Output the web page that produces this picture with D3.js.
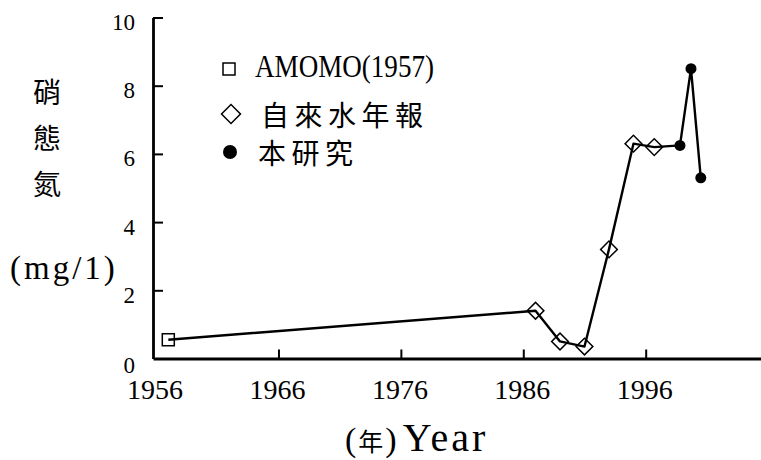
<!DOCTYPE html>
<html>
<head>
<meta charset="utf-8">
<script src="https://cdn.jsdelivr.net/npm/d3@7"></script>
<style>
  html, body { margin: 0; padding: 0; background: #fff; }
  svg { display: block; }
  .latin { font-family: "Liberation Serif", "Times New Roman", serif; fill: #000; }
  .cjk { font-family: "Noto Sans CJK TC", "Noto Sans CJK SC", sans-serif; fill: #000; }
</style>
</head>
<body>
<svg id="chart" width="761" height="460"></svg>
<script>
// Nitrate nitrogen (mg/l) by year, three sources
const amomoYears = [1957];
const amomoValues = [0.55];
const annualYears = [1987, 1989, 1991, 1993, 1995, 1996.7];
const annualValues = [1.4, 0.5, 0.35, 3.2, 6.3, 6.2];
const studyYears = [1998.8, 1999.7, 2000.5];
const studyValues = [6.25, 8.5, 5.3];

const xTicks = [1956, 1966, 1976, 1986, 1996];
const yTicks = [0, 2, 4, 6, 8, 10];

const legendLabels = ["AMOMO(1957)", "自來水年報", "本研究"];
const yTitleChars = ["硝", "態", "氮"];
const yUnit = "(mg/1)";
const xTitleCjk = "年";
const xTitleLatin = "Year";

const svg = d3.select("#chart");

const x = d3.scaleLinear().domain([1955.75, 2006]).range([153, 768.1]);
const y = d3.scaleLinear().domain([0, 10]).range([358.5, 17.5]);

// all points joined chronologically
const series = [
  ...amomoYears.map((d, i) => ({ year: d, value: amomoValues[i] })),
  ...annualYears.map((d, i) => ({ year: d, value: annualValues[i] })),
  ...studyYears.map((d, i) => ({ year: d, value: studyValues[i] }))
];

// y axis, ticks pointing inward
const yAxis = svg.append("g")
  .attr("transform", `translate(${x(1955.75)},0)`)
  .call(d3.axisLeft(y).tickValues(yTicks).tickSize(-10).tickSizeOuter(0).tickPadding(18).tickFormat(d3.format("d")));
yAxis.select(".domain").attr("stroke", "#000").attr("stroke-width", 2.8);
yAxis.selectAll(".tick line").attr("stroke", "#000").attr("stroke-width", 2)
  .attr("display", d => d === 0 ? "none" : null);
yAxis.selectAll(".tick text")
  .attr("class", "latin")
  .attr("font-size", 23)
  .attr("dy", d => d === 0 ? 13.5 : 12);

// x axis, ticks pointing inward
const xAxis = svg.append("g")
  .attr("transform", `translate(0,${y(0)})`)
  .call(d3.axisBottom(x).tickValues(xTicks).tickSize(-9).tickSizeOuter(0).tickPadding(21).tickFormat(d3.format("d")));
xAxis.select(".domain").attr("stroke", "#000").attr("stroke-width", 2.8);
xAxis.selectAll(".tick line").attr("stroke", "#000").attr("stroke-width", 2)
  .attr("display", d => d === 1956 ? "none" : null);
xAxis.selectAll(".tick text")
  .attr("class", "latin")
  .attr("font-size", 28)
  .attr("dx", -1.5);
svg.selectAll("g").attr("font-family", null);

// connecting line
svg.append("path")
  .datum(series)
  .attr("fill", "none")
  .attr("stroke", "#000")
  .attr("stroke-width", 2.4)
  .attr("stroke-linejoin", "round")
  .attr("d", d3.line().x(d => x(d.year)).y(d => y(d.value)));

// markers
const sq = 12;
svg.selectAll(".amomo")
  .data(amomoYears)
  .join("rect")
  .attr("x", (d) => x(d) - sq / 2)
  .attr("y", (d, i) => y(amomoValues[i]) - sq / 2)
  .attr("width", sq).attr("height", sq)
  .attr("fill", "none").attr("stroke", "#000").attr("stroke-width", 1.5);

const diamond = d3.symbol().type(d3.symbolSquare).size(140);
svg.selectAll(".annual")
  .data(annualYears)
  .join("path")
  .attr("d", diamond)
  .attr("transform", (d, i) => `translate(${x(d)},${y(annualValues[i])}) rotate(45)`)
  .attr("fill", "none").attr("stroke", "#000").attr("stroke-width", 1.5);

svg.selectAll(".study")
  .data(studyYears)
  .join("circle")
  .attr("cx", d => x(d))
  .attr("cy", (d, i) => y(studyValues[i]))
  .attr("r", 5.5)
  .attr("fill", "#000");

// legend
const lg = svg.append("g");
lg.append("rect").attr("x", 223).attr("y", 63).attr("width", 12).attr("height", 12)
  .attr("fill", "none").attr("stroke", "#000").attr("stroke-width", 1.5);
lg.append("text").attr("class", "latin").attr("x", 255).attr("y", 77)
  .attr("font-size", 32).attr("textLength", 179).attr("lengthAdjust", "spacingAndGlyphs")
  .text(legendLabels[0]);
lg.append("path").attr("d", d3.symbol().type(d3.symbolSquare).size(180)())
  .attr("transform", "translate(231,114) rotate(45)")
  .attr("fill", "none").attr("stroke", "#000").attr("stroke-width", 1.5);
lg.append("text").attr("class", "cjk").attr("x", 261).attr("y", 114)
  .attr("font-size", 28).attr("letter-spacing", 5.5).attr("dominant-baseline", "central")
  .text(legendLabels[1]);
lg.append("circle").attr("cx", 230).attr("cy", 152).attr("r", 7).attr("fill", "#000");
lg.append("text").attr("class", "cjk").attr("x", 258).attr("y", 152)
  .attr("font-size", 28).attr("letter-spacing", 5.5).attr("dominant-baseline", "central")
  .text(legendLabels[2]);

// y title, stacked characters
svg.selectAll(".ytitle")
  .data(yTitleChars)
  .join("text")
  .attr("class", "cjk")
  .attr("x", 47)
  .attr("y", (d, i) => 91 + i * 46)
  .attr("text-anchor", "middle")
  .attr("dominant-baseline", "central")
  .attr("font-size", 28)
  .text(d => d);
svg.append("text").attr("class", "latin")
  .attr("x", 10).attr("y", 279)
  .attr("font-size", 33).attr("letter-spacing", 3)
  .text(yUnit);

// x title
const xt = svg.append("text").attr("class", "latin").attr("x", 345).attr("y", 451).attr("font-size", 34);
xt.append("tspan").text("(");
xt.append("tspan").attr("class", "cjk").attr("font-size", 25).attr("dx", 2).text(xTitleCjk);
xt.append("tspan").attr("dx", 2).text(")");
xt.append("tspan").attr("dx", 6).attr("font-size", 40).attr("letter-spacing", 3).text(xTitleLatin);
</script>
</body>
</html>
